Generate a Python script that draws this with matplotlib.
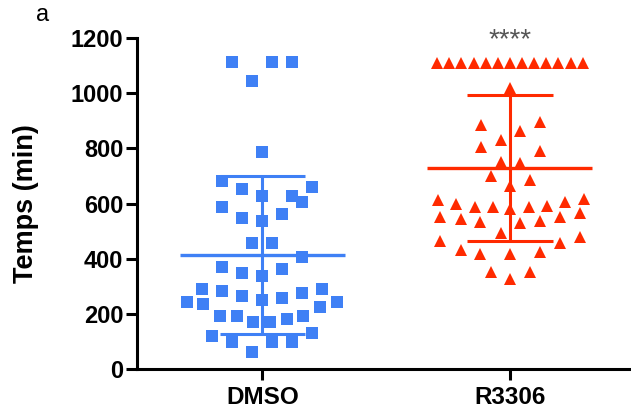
import numpy as np
import matplotlib
matplotlib.use("Agg")
import matplotlib.pyplot as plt

categories = ["DMSO", "R3306"]

dmso_values = [1114, 1114, 1114, 1044, 788,
               681, 652, 628, 628, 661, 604, 587,
               546, 538, 562, 458, 458, 405,
               371, 347, 337, 362,
               291, 283, 266, 250, 259, 274, 291,
               242, 235, 226, 242,
               192, 192, 172, 172, 180, 192,
               121, 99, 99, 99, 129, 63]
dmso_jitter = [-0.121, 0.038, 0.119, -0.043, 0.0,
               -0.164, -0.083, 0.0, 0.119, 0.199, 0.159, -0.164,
               -0.083, 0.0, 0.078, -0.043, 0.038, 0.159,
               -0.164, -0.083, 0.0, 0.078,
               -0.245, -0.164, -0.083, 0.0, 0.078, 0.159, 0.240,
               -0.305, -0.238, 0.233, 0.300,
               -0.171, -0.103, -0.036, 0.031, 0.099, 0.166,
               -0.204, -0.121, 0.038, 0.119, 0.199, -0.043]

r3306_values = [1110] * 13 + [
    1018, 885, 897, 864, 830, 806, 791, 752, 748, 700, 685, 664,
    613, 598, 588, 588, 580, 588, 592, 607, 616,
    552, 544, 534, 528, 537, 552, 565,
    492, 464, 456, 480,
    431, 416, 416, 425,
    351, 351, 326]
r3306_jitter = [-0.294, -0.245, -0.196, -0.147, -0.098, -0.049, 0.0,
                0.049, 0.098, 0.147, 0.196, 0.245, 0.294] + [
    0.0, -0.116, 0.123, 0.042, -0.038, -0.116, 0.123, -0.038, 0.042, -0.076, 0.083, 0.0,
    -0.291, -0.217, -0.143, -0.069, 0.0, 0.079, 0.150, 0.223, 0.298,
    -0.281, -0.197, -0.119, 0.042, 0.123, 0.204, 0.285,
    -0.038, -0.281, 0.204, 0.285,
    -0.197, -0.119, 0.0, 0.123,
    -0.076, 0.083, 0.0]

yticks = [0, 200, 400, 600, 800, 1000, 1200]
signif = "****"

blue = "#3f80f5"
red = "#ff2a00"

plt.rcParams['font.family'] = ['Liberation Sans', 'DejaVu Sans']

fig = plt.figure(figsize=(6.31, 4.13), dpi=100)
ax = fig.add_axes([0.2175, 0.1065, 0.7825, 0.8015])

groups = [(dmso_values, dmso_jitter, blue, 's', 9.2),
          (r3306_values, r3306_jitter, red, '^', 8.8)]
for i, (vals, jit, col, mk, ms) in enumerate(groups):
    v = np.array(vals, dtype=float)
    m = v.mean()
    sd = v.std(ddof=1)
    ax.plot([i - 0.333, i + 0.333], [m, m], color=col, lw=2.4, zorder=2, solid_capstyle='butt')
    ax.plot([i, i], [m - sd, m + sd], color=col, lw=2.2, zorder=2, solid_capstyle='butt')
    for y in (m - sd, m + sd):
        ax.plot([i - 0.172, i + 0.172], [y, y], color=col, lw=2.2, zorder=2, solid_capstyle='butt')
    ax.plot(i + np.array(jit), v, linestyle='none', marker=mk, ms=ms,
            color=col, markeredgewidth=0, zorder=3)

ax.text(1.0, 1193, signif, ha='center', va='center', fontsize=20,
        color='#555555', clip_on=False)

ax.set_xlim(-0.505, 1.489)
ax.set_ylim(0, 1200)
ax.set_yticks(yticks)
ax.set_xticks([0, 1])
ax.set_xticklabels(categories, fontsize=17.5, fontweight='bold')
ax.set_yticklabels([str(t) for t in yticks], fontsize=17, fontweight='bold')
ax.set_ylabel("Temps (min)", fontsize=19.5, fontweight='bold', labelpad=23)
for s in ('top', 'right'):
    ax.spines[s].set_visible(False)
for s in ('left', 'bottom'):
    ax.spines[s].set_linewidth(2.2)
ax.tick_params(axis='both', length=8, width=2.2, pad=2)
ax.tick_params(axis='x', pad=4)

fig.text(43 / 631, 1 - 15 / 413, "a", fontsize=17, ha='center', va='center')

fig.savefig("out.png", dpi=100)
